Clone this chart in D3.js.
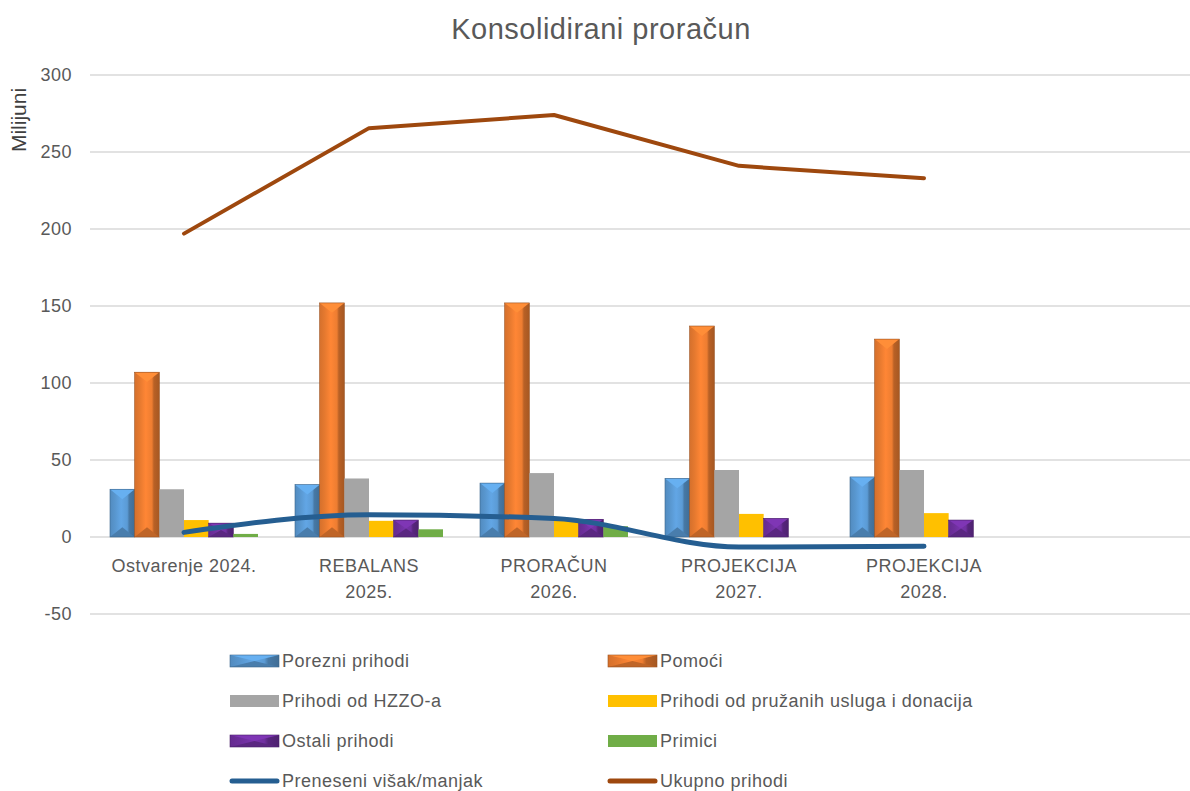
<!DOCTYPE html>
<html>
<head>
<meta charset="utf-8">
<script src="https://d3js.org/d3.v7.min.js"></script>
<style>
  html, body { margin: 0; padding: 0; background: #fff; }
  svg { font-family: 'Liberation Sans', Arial, sans-serif; }
</style>
</head>
<body>
<div id="chart"></div>
<script>
// kategorije (zadnja je prazna, kao u Excelu)
const categories = ['Ostvarenje 2024.', 'REBALANS\n2025.', 'PRORAČUN\n2026.', 'PROJEKCIJA\n2027.', 'PROJEKCIJA\n2028.', '']

// stupci (milijuni)
const porezni = [31, 34, 35, 38, 39]
const pomoci = [107, 152, 152, 137, 128.5]
const hzzo = [31, 38, 41.5, 43.5, 43.5]
const usluge = [11, 10.5, 12, 15, 15.5]
const ostali = [9, 11, 11.5, 12, 11]
const primici = [2, 5, 7, 0, 0]

// linije
const preneseni = [3, 14.5, 12, -6.5, -6]
const ukupno = [197, 265.5, 274, 241, 233]

const yTicks = [-50, 0, 50, 100, 150, 200, 250, 300]

const barSeries = [
  {name: 'Porezni prihodi', values: porezni, color: '#5b9bd5', bevel: true},
  {name: 'Pomoći', values: pomoci, color: '#ed7d31', bevel: true},
  {name: 'Prihodi od HZZO-a', values: hzzo, color: '#a5a5a5', bevel: false},
  {name: 'Prihodi od pružanih usluga i donacija', values: usluge, color: '#ffc000', bevel: false},
  {name: 'Ostali prihodi', values: ostali, color: '#7030a0', bevel: true},
  {name: 'Primici', values: primici, color: '#70ad47', bevel: false}
]
const lineSeries = [
  {name: 'Preneseni višak/manjak', values: preneseni, color: '#255e91', width: 5, smooth: true},
  {name: 'Ukupno prihodi', values: ukupno, color: '#9e480e', width: 4, smooth: false}
]

const W = 1190, H = 791
const svg = d3.select('#chart').append('svg').attr('width', W).attr('height', H)
const defs = svg.append('defs')

const x0 = d3.scaleBand().domain(categories).range([91.5, 1201.5])
const x1 = d3.scaleBand().domain(barSeries.map(d => d.name))
  .range([0, x0.bandwidth()]).paddingOuter(0.75)
const y = d3.scaleLinear().domain([-50, 300]).range([614, 75])

// gradijenti za "bevel" stupce
barSeries.forEach((s, i) => {
  const c = d3.color(s.color)
  const g = defs.append('linearGradient').attr('id', 'grad' + i)
    .attr('x1', 0).attr('x2', 1).attr('y1', 0).attr('y2', 0)
  g.append('stop').attr('offset', '0%').attr('stop-color', c.darker(0.3))
  g.append('stop').attr('offset', '20%').attr('stop-color', c.darker(0.1))
  g.append('stop').attr('offset', '45%').attr('stop-color', c.brighter(0.2))
  g.append('stop').attr('offset', '70%').attr('stop-color', c)
  g.append('stop').attr('offset', '78%').attr('stop-color', c.darker(0.7))
  g.append('stop').attr('offset', '100%').attr('stop-color', c.darker(1))
})

function drawBar(g, bx, by, w, h, s, i) {
  if (h <= 0) return
  if (!s.bevel) {
    g.append('rect').attr('x', bx).attr('y', by).attr('width', w).attr('height', h).attr('fill', s.color)
    return
  }
  const c = d3.color(s.color)
  g.append('rect').attr('x', bx).attr('y', by).attr('width', w).attr('height', h).attr('fill', `url(#grad${i})`)
  const d = Math.min(w * 0.4, h / 2)
  g.append('polygon')
    .attr('points', [[bx, by], [bx + w, by], [bx + w / 2, by + d]].join(' '))
    .attr('fill', c.brighter(0.35))
  g.append('polygon')
    .attr('points', [[bx, by + h], [bx + w, by + h], [bx + w / 2, by + h - d]].join(' '))
    .attr('fill', c.darker(0.6))
  g.append('rect').attr('x', bx).attr('y', by).attr('width', w).attr('height', h)
    .attr('fill', 'none').attr('stroke', c.darker(1.2)).attr('stroke-width', 0.6)
}

// mreža
svg.append('g').selectAll('line').data(yTicks).join('line')
  .attr('x1', 90).attr('x2', W)
  .attr('y1', d => y(d)).attr('y2', d => y(d))
  .attr('stroke', '#d9d9d9').attr('stroke-width', 1.5)

svg.append('g').selectAll('text').data(yTicks).join('text')
  .attr('x', 72).attr('y', d => y(d) + 6)
  .attr('text-anchor', 'end')
  .attr('font-size', 18).attr('letter-spacing', 0.5).attr('fill', '#595959')
  .text(d => d)

// naslov osi
svg.append('text')
  .attr('transform', 'translate(26,120) rotate(-90)')
  .attr('text-anchor', 'middle')
  .attr('font-size', 21).attr('fill', '#404040')
  .text('Milijuni')

// naslov
svg.append('text')
  .attr('x', 601).attr('y', 39)
  .attr('text-anchor', 'middle')
  .attr('font-size', 29).attr('letter-spacing', 0.5).attr('fill', '#595959')
  .text('Konsolidirani proračun')

// stupci
const bars = svg.append('g')
barSeries.forEach((s, i) => {
  s.values.forEach((v, j) => {
    const bx = x0(categories[j]) + x1(s.name)
    drawBar(bars, bx, y(v), x1.bandwidth(), y(0) - y(v), s, i)
  })
})

// linije
lineSeries.forEach(s => {
  const line = d3.line()
    .x((d, j) => x0(categories[j]) + x0.bandwidth() / 2)
    .y(d => y(d))
    .curve(s.smooth ? d3.curveMonotoneX : d3.curveLinear)
  svg.append('path').datum(s.values)
    .attr('d', line)
    .attr('fill', 'none')
    .attr('stroke', s.color)
    .attr('stroke-width', s.width)
    .attr('stroke-linecap', 'round')
    .attr('stroke-linejoin', 'round')
})

// oznake kategorija
const catG = svg.append('g')
categories.forEach(c => {
  if (!c) return
  const t = catG.append('text')
    .attr('text-anchor', 'middle')
    .attr('font-size', 18).attr('letter-spacing', 0.5).attr('fill', '#595959')
  c.split('\n').forEach((ln, k) => {
    t.append('tspan')
      .attr('x', x0(c) + x0.bandwidth() / 2)
      .attr('y', 572 + k * 26)
      .text(ln)
  })
})

// legenda
const legendItems = barSeries.map((s, i) => ({...s, idx: i, type: 'bar'}))
  .concat(lineSeries.map(s => ({...s, type: 'line'})))
const legCols = [230, 608]
const leg = svg.append('g')
legendItems.forEach((s, i) => {
  const lx = legCols[i % 2]
  const ly = 661 + Math.floor(i / 2) * 40
  if (s.type === 'bar') {
    drawBar(leg, lx, ly - 6, 49, 12, s, s.idx)
  } else {
    leg.append('line')
      .attr('x1', lx + 2).attr('x2', lx + 47)
      .attr('y1', ly).attr('y2', ly)
      .attr('stroke', s.color).attr('stroke-width', 5)
      .attr('stroke-linecap', 'round')
  }
  leg.append('text')
    .attr('x', lx + 52).attr('y', ly + 6)
    .attr('font-size', 18).attr('letter-spacing', 0.5).attr('fill', '#595959')
    .text(s.name)
})
</script>
</body>
</html>
